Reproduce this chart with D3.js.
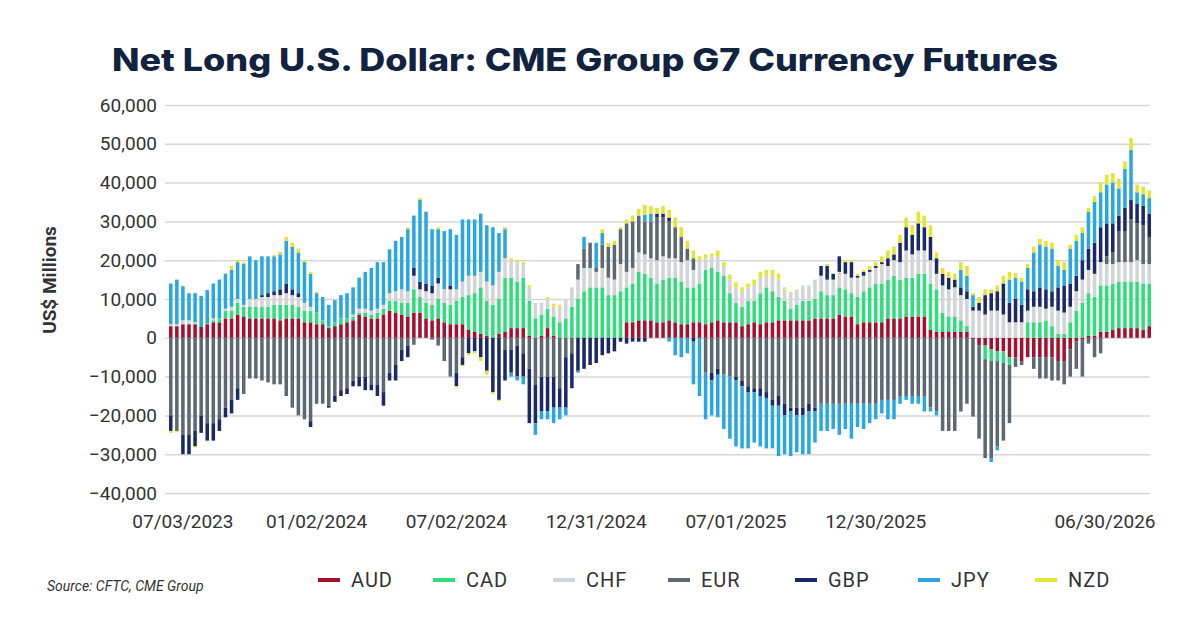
<!DOCTYPE html>
<html><head><meta charset="utf-8">
<script src="https://cdn.jsdelivr.net/npm/d3@7"></script>
<style>body{margin:0;background:#fff}svg{display:block}</style>
</head><body><svg id="c" width="1200" height="627"></svg>
<script>
const currencies=["AUD","CAD","CHF","EUR","GBP","JPY","NZD"];
const colors=["#a5102f","#2fde7a","#d2d4d7","#5d6873","#1b2a66","#2aa7df","#e4e433"];
const xTickIdx=[2,24,47,70,93,116,154];
const xTickLabels=["07/03/2023","01/02/2024","07/02/2024","12/31/2024","07/01/2025","12/30/2025","06/30/2026"];
const yTicks=[-40000,-30000,-20000,-10000,0,10000,20000,30000,40000,50000,60000];
// values in thousands of US$ millions
const AUD=[3,3,3.5,3.5,3.5,2.8,3.5,4,4,5, 5,6,5.5,5,5,5,5,5,4.5,5, 5,5,4,4,3.5,3.5,2.5,3,3.5,4, 4.5,6,5.5,5,5,6,7,6.5,6,5.5, 6.5,6.5,5,4.5,5,4,3.5,3.5,3.5,2, 1.5,1,0.5,0,1,1.5,2.5,2.5,2.5,0.5, 0,0.5,2.5,0.5,0,0,0,0,0,0, 0,0,0,0,0,4,4,4.5,4.5,4.5, 4,4,4.5,4,3.5,3.5,4,4,3.5,4, 4.5,4,4,4,3,3.5,4,3.5,4,4, 4.5,4.5,4.5,4.5,4.5,4.5,5,5,5,5, 6,5.5,5.5,3.5,4,4,4,4,5,5, 5,5.5,5.5,5.5,5.5,2,1.5,1.5,1.5,1.5, 1.5,1.5,-0.3,-2,-2,-3,-3.5,-3.5,-5,-5, -6,-5,-5,-5,-5,-5,-6,-6,-3,-1, -0.5,0.5,0.5,1.5,1.5,2,2.5,2.5,2.5,2.5, 2,3];
const CAD=[0,0,0,0,0,0,0.3,0.5,1,2, 2,3,2.5,3,3,3,3,3.5,4,3.5, 3.5,3,3,3,3,1,0.5,1,1.5,1, 1,0.5,1,1,1.5,1.5,2.5,3,3,3.5, 6,4,4,4,5,5,5,6,7,9, 10,12,9,8.5,9,14,13,12,13,9, 5,5.5,5,5,4,5,8,10,12,13, 13,13,11,11,12,9,10,12.5,12,11, 10,11,11,11.5,11,9.5,9,10,14,14, 12.5,12,7.5,5,5,6,5.5,8,9,8, 6,5,3,4,5,5,5,7,6,6, 7,7,6,7,8,9,10,10,10,11, 10,10,10,11,11,12,11,5,4,4, 3,1.5,0,0,-3.5,-3,-2.5,-3,-2,0, 0,4,4,4,4.5,3,1,1,4,7, 9,11,10,12,12,12,12,12,12,12, 12,11];
const CHF=[0.5,0.5,1,1,0.5,0,0,0.5,0,0.5, 1,1,0.5,2,2,2.5,2.5,2.5,2.5,3, 2.5,2.5,2,1,0,0,0,0,0,0, 0.5,1,1,1,1,1,2,2.5,3.5,3, 3.5,2,3,3,4,3.5,4,3,4,5, 4.5,4,5,5,7,5,4.5,5,3.5,3.5, 4,3,2.5,2.5,4,5,5,5,6,5, 4,5,4.5,4,7,4,4,5,5,5, 6,6,5,5,5,7,4.5,6,3,3, 4,2.5,3.5,4,4,3.5,4,4,3,4, 4.5,3,4,4,4,4,5,4,4,4, 4,4,4,5,4,4,4,5,3.5,4, 4.5,7,6,6,6,6,4,7,7,7.5, 6.5,7,7,7,6,7,7,6,4,4, 4,3,4,4,3,5,6,5.5,4,5, 6,6,6,6,5.5,5,5,5,5,5.5, 5,5];
const EUR=[-20,-24,-25,-25,-24,-20,-22,-22,-21,-18, -16,-13,-14.5,-10.5,-10.5,-11,-11.5,-12,-12,-15, -18,-20,-21,-21.5,-17,-17,-17.5,-15,-13.5,-13, -11,-10,-10,-12,-12,-14,-9,-7,-3,-2, -1.8,0,0,-0.5,-2,-6,-10,-9,-5,0, 0,0,0,0,0,-3,-3,-2,-4,-8, -12,-10,-10,-10,-13,-5,-4,4,5,6.5, 1,6,8,9,9,12.5,12,9.5,8.5,9.5, 11,10,9.5,8,6.5,3,3,0,-9,-9, -8,-9.5,-10,-10,-11,-12.5,-13,-13,-14,-16, -15,-17,-18,-18,-18,-17,-18,-17,-17,-17, -17,-17,-17,-17,-17,-17,-17,-16,-16,-16, -15,-15,-15,-15,-15,-18,-19,-24,-24,-24, -19,-17,-20,-24,-25.5,-25,-22,-20,-15,-2.5, -1,0,-3,-5.5,-5.5,-6,-5,-6,-7,-7, -9.5,-1.5,-5,-4,2,3,8,8,11,9.5, 10,7];
const GBP=[-4,0,-5,-5,-4,-4.5,-4.5,-4.5,-3,-2.5, -3.5,-3,0,0,0,0.5,1,1,1.5,2.5, 1.5,1,0,-1.5,0,0,-0.5,-1.5,-1.5,-1.5, -1.5,-2.5,-3.5,-1.5,-3,-3.5,-2,-4,-3,-3, 2,2,2,2,1.5,0,1,-3.5,-2,-4, -3.5,-5,-8.5,-14,-16,-8,-6,-8,-6,-14, -10,-9,-9,-8,-5,-13,-9,-8.5,-8,-7, -6.5,-4.5,-4,-3.5,-1,-1.5,-1,-1,-1,0, 1,1,1,0,0,0,-1,0,0,-2, -1.5,0,0,-1,-1.5,-1.5,-1,-2,-1.5,-1.5, -2.5,-3,-1,-2,-2,-2,-1,2.5,3.5,1.5, 4,3,4,0.5,1,0.5,0.5,0.5,2,1.5, 5,6,5,7,6,6,4,3,3,2, 2,2,1,2,5,4.5,5,8,5,6, 4.5,5.5,4,5,5,4,6,7,6,4, 5,5.5,8,9,8.5,7.5,4,6,5,5, 5,6];
const JPY=[10.5,11.5,8.8,7,7.5,8,8.5,9,10,9, 9.5,9.5,10.5,11,10,10,9.5,9,9,11, 11,10.5,10.5,8.5,5,6,5.5,5.7,6,6.5, 7,8,9.5,11,12,11,11.3,13,13.5,16, 13.5,21,18.5,14.5,12.5,15,14.5,14,16,14.5, 14.5,15,14.5,15,10,7.5,-1,-1,-2,0, -3,-2,-2,-4,-3,-2,0,-0.5,3,0, 6.5,3,0,0,0,0,0,0,1.7,2, 0,0,-1,-4.5,-5,-4,-11,-15,-12,-9, -11,-14,-16,-17,-16,-14.5,-13,-13,-13,-11, -13,-10,-11.5,-9.5,-10,-11,-8,-7,-7,-6.5, -8,-6.5,-9,-6,-6.5,-5,-4,-3.5,-5,-5, -2,-1,-2,-2,-4,-1,-1,0,0,0, 4.5,4,3,0,0,-1,-1,0,6,5.5, 6,5.5,10,11,11,11,5.5,4,9,9, 7,9.5,10.5,9,10,10.5,7,10,13,3, 3,4];
const NZD=[-0.5,-0.3,0,0,-0.3,0,0,0,0,0.2, 1,0.5,0.5,0,0,0,0,0.3,0.7,1, 1,1,0.5,0.5,0.3,0,0,0,0,0, 0,0,0,0,0,0,0,0,0,0.4, 0,0.5,0,0,0.5,0,0,-0.3,-0.3,-0.5, -0.5,-1,-1,-0.5,-0.3,0.5,0.5,0.5,0.5,0.5, 0,0,0.5,0.8,0.5,0,0,0,0,0, 0,1,1,1,0.5,1,1.5,1.7,2.5,2, 1.5,2,2,2.5,2.5,2,2,1,1,0.7, 1.5,1,1.3,1.3,1,1,1.5,1.5,1.5,1.5, 1.5,0.5,0.3,0,0,0,0,0,0.5,0, 0,0.5,0.5,0.5,0.5,1,1,1.5,2,2, 2,2.5,2.5,3,3,3,1.5,1.5,1.5,1.5, 2,2.5,0.5,1.5,1.5,1,1.5,2,2,1.2, 1,1,1.5,1.5,1.5,1.5,1.5,2,1,1.5, 1.5,1,1.5,2.5,2.5,2.5,2.5,2,3,2, 2,2];
const series=[AUD,CAD,CHF,EUR,GBP,JPY,NZD];

const rows=AUD.map((_,i)=>{const r={i};currencies.forEach((c,k)=>r[c]=series[k][i]*1000);return r;});
const svg=d3.select("#c");
const x=d3.scaleBand().domain(rows.map(r=>r.i)).range([169,1151]).paddingInner(0.42);
const y=d3.scaleLinear().domain([-40000,60000]).range([493,105]);
const col=d3.scaleOrdinal().domain(currencies).range(colors);

svg.append("text").attr("x",112).attr("y",71).attr("font-family","Inter, 'DejaVu Sans', sans-serif")
 .attr("font-weight",800).attr("font-size",31).attr("fill","#11233f").attr("textLength",946).attr("lengthAdjust","spacingAndGlyphs")
 .text("Net Long U.S. Dollar: CME Group G7 Currency Futures");

const ya=svg.append("g").attr("transform","translate(165,0)")
 .call(d3.axisLeft(y).tickValues(yTicks).tickSize(-985).tickFormat(d3.format(",")).tickPadding(8));
ya.select(".domain").remove();
ya.selectAll("line").attr("stroke","#d6d6d6").attr("stroke-width",1.5);
ya.selectAll("text").attr("font-family","Roboto, sans-serif").attr("font-size",19).attr("fill","#333").attr("x",-8);

svg.append("text").attr("transform","translate(56,280) rotate(-90)").attr("text-anchor","middle")
 .attr("font-family","Roboto, sans-serif").attr("font-weight",700).attr("font-size",19).attr("fill","#333").text("US$ Millions");

const stack=d3.stack().keys(currencies).offset(d3.stackOffsetDiverging)(rows);
svg.append("g").selectAll("g").data(stack).join("g").attr("fill",d=>col(d.key))
 .selectAll("rect").data(d=>d).join("rect")
 .attr("x",d=>x(d.data.i)).attr("width",x.bandwidth())
 .attr("y",d=>y(Math.max(d[0],d[1]))).attr("height",d=>Math.abs(y(d[0])-y(d[1])));

const xa=svg.append("g");
xTickIdx.forEach((ix,k)=>{
 xa.append("text").attr("x",k===6?1105:x(ix)+x.bandwidth()/2).attr("y",528).attr("text-anchor","middle")
  .attr("font-family","Roboto, sans-serif").attr("font-size",19).attr("fill","#333").text(xTickLabels[k]);
});

svg.append("text").attr("x",47).attr("y",591).attr("font-family","Roboto, sans-serif").attr("font-style","italic")
 .attr("font-size",14).attr("fill","#333").text("Source: CFTC, CME Group");

const lx=[318,433,553,668,795,918,1035];
const lg=svg.append("g");
currencies.forEach((c,k)=>{
 lg.append("rect").attr("x",lx[k]).attr("y",578).attr("width",22).attr("height",4).attr("fill",colors[k]);
 lg.append("text").attr("x",lx[k]+33).attr("y",587).attr("font-family","Roboto, sans-serif").attr("font-size",20)
  .attr("fill","#333").attr("letter-spacing",1).text(c);
});
</script></body></html>
